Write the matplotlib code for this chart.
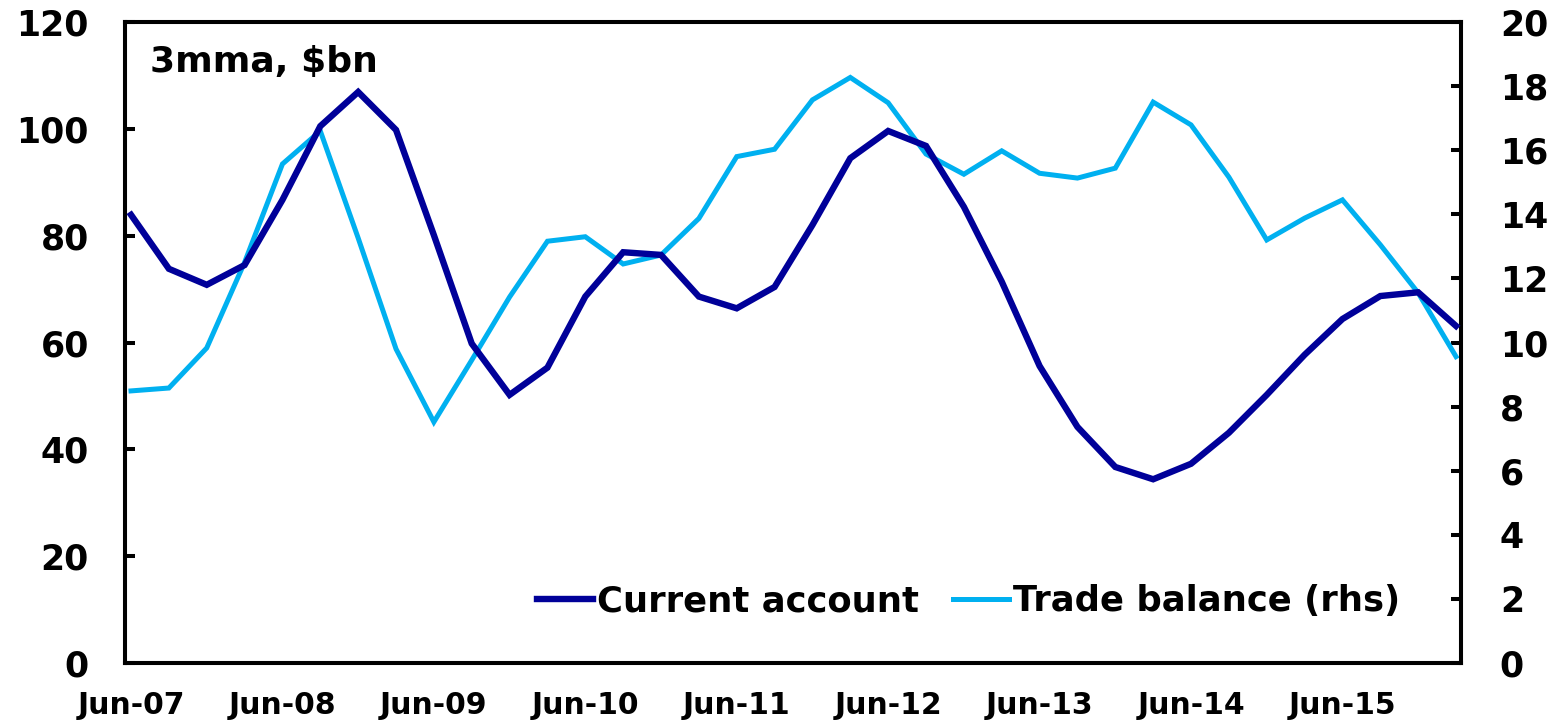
import numpy as np
import matplotlib.pyplot as plt

plt.rcParams['font.family'] = ['DejaVu Sans']
plt.rcParams['font.weight'] = 'bold'

# quarterly, Jun-07 .. Mar-16
quarters = np.arange(36)
tick_pos = [0, 4, 8, 12, 16, 20, 24, 28, 32]
tick_labels = ["Jun-07", "Jun-08", "Jun-09", "Jun-10", "Jun-11",
               "Jun-12", "Jun-13", "Jun-14", "Jun-15"]

current_account = [83.9, 73.8, 70.8, 74.5, 86.7, 100.5, 106.9, 99.8, 80.1, 59.8,
                   50.2, 55.3, 68.6, 76.9, 76.4, 68.6, 66.4, 70.4, 82.0, 94.5,
                   99.6, 96.8, 85.4, 71.4, 55.6, 44.2, 36.7, 34.4, 37.3, 43.1,
                   50.2, 57.7, 64.4, 68.7, 69.4, 63.1]

trade_balance = [8.49, 8.58, 9.83, 12.5, 15.57, 16.6, 13.26, 9.8, 7.52, 9.45,
                 11.42, 13.16, 13.30, 12.45, 12.73, 13.87, 15.80, 16.03, 17.57, 18.27,
                 17.48, 15.88, 15.25, 15.98, 15.28, 15.13, 15.44, 17.5, 16.79, 15.16,
                 13.2, 13.88, 14.45, 13.05, 11.55, 9.56]

navy = "#000099"
light = "#00B0F0"

fig = plt.figure(figsize=(15.62, 7.21), dpi=100)
ax = fig.add_axes([0.080, 0.0804, 0.8553, 0.8891])
ax2 = ax.twinx()

l1, = ax.plot(quarters, current_account, color=navy, lw=4.6,
              solid_joinstyle='miter', label="Current account", zorder=3)
l2, = ax2.plot(quarters, trade_balance, color=light, lw=3.6,
               solid_joinstyle='miter', label="Trade balance (rhs)")
ax.set_zorder(ax2.get_zorder() + 1)
ax.patch.set_visible(False)

ax.set_xlim(-0.16, 35.13)
ax.set_ylim(0, 120)
ax2.set_ylim(0, 20)
ax.set_yticks(range(0, 121, 20))
ax2.set_yticks(range(0, 21, 2))
ax.set_xticks(tick_pos)
ax.set_xticklabels(tick_labels)

for a in (ax, ax2):
    for s in a.spines.values():
        s.set_linewidth(2.9)
ax.tick_params(axis='y', direction='in', length=7, width=2.9, labelsize=25, pad=26)
ax2.tick_params(axis='y', direction='in', length=7, width=2.9, labelsize=25, pad=28)
ax.tick_params(axis='x', length=0, labelsize=21.5, pad=20)

ax.text(0.0187, 0.922, "3mma, $bn", transform=ax.transAxes, fontsize=26,
        fontweight='bold', va='baseline', ha='left')

ax.legend([l1, l2], ["Current account", "Trade balance (rhs)"], loc='center right',
          bbox_to_anchor=(0.965, 0.096), ncol=2, frameon=False, fontsize=25.5,
          handlelength=1.6, handletextpad=0.1, columnspacing=0.95, borderaxespad=0)

fig.savefig("out.png", dpi=100)
